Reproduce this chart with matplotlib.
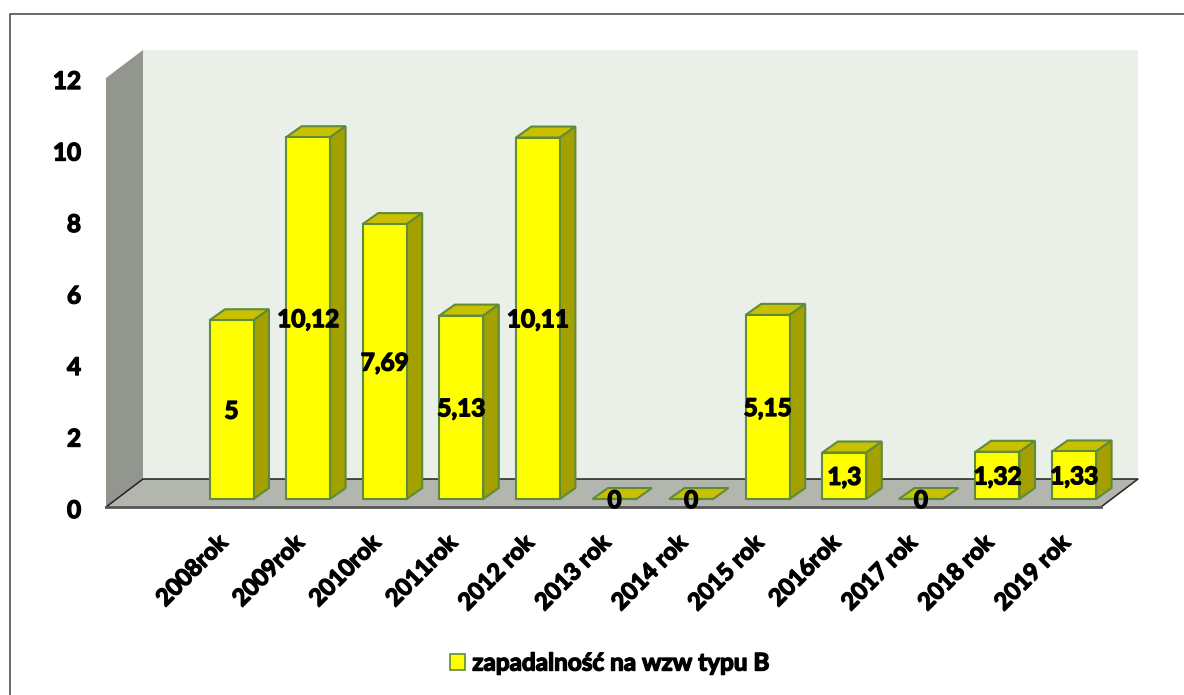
import matplotlib
matplotlib.use('Agg')
import matplotlib.pyplot as plt
import matplotlib.patheffects as pe
from matplotlib.lines import Line2D
from matplotlib.patches import Polygon
from matplotlib.transforms import Affine2D
import numpy as np

plt.rcParams['font.family'] = ['Lato', 'DejaVu Sans']
plt.rcParams['font.weight'] = 'bold'

# dane
years = ['2008rok', '2009rok', '2010rok', '2011rok', '2012 rok', '2013 rok',
         '2014 rok', '2015 rok', '2016rok', '2017 rok', '2018 rok', '2019 rok']
values = [5, 10.12, 7.69, 5.13, 10.11, 0, 0, 5.15, 1.3, 0, 1.32, 1.33]
value_labels = ['5', '10,12', '7,69', '5,13', '10,11', '0', '0', '5,15', '1,3', '0', '1,32', '1,33']
yticks = [0, 2, 4, 6, 8, 10, 12]
series_name = 'zapadalność na wzw typu B'

W, H = 1184, 695
LEFT, RIGHT, TOP, BOTTOM = 106, 1101, 78, 507   # przednia płaszczyzna osi (px)
SLOT = 76.6      # px na kategorię
FIRST = 231.5    # środek pierwszego słupka (px)
HEAVY = [pe.withStroke(linewidth=1.0, foreground='black')]

fig = plt.figure(figsize=(W / 100, H / 100), dpi=100, facecolor='white')
ax = fig.add_axes([LEFT / W, 1 - BOTTOM / H, (RIGHT - LEFT) / W, (BOTTOM - TOP) / H])
ax.set_xlim((LEFT - FIRST) / SLOT, (RIGHT - FIRST) / SLOT)
ax.set_ylim(0, 12)
ax.patch.set_visible(False)
for s in ax.spines.values():
    s.set_visible(False)

px_x = (ax.get_xlim()[1] - ax.get_xlim()[0]) / (RIGHT - LEFT)
px_y = 12 / (BOTTOM - TOP)


def poly(points, **kw):
    ax.add_patch(Polygon(points, closed=True, clip_on=False, **kw))


# ściany i podłoga
xl, xr = ax.get_xlim()
dx, dy = 37 * px_x, 28 * px_y
poly([(xl + dx, dy), (xr + dx, dy), (xr + dx, 12 + dy), (xl + dx, 12 + dy)],
     fc='#EAEFE8', ec='none', zorder=1)
poly([(xl, 0), (xl + dx, dy), (xl + dx, 12 + dy), (xl, 12)], fc='#92968F', ec='none', zorder=1)
poly([(xl, 0), (xr, 0), (xr + dx, dy), (xl + dx, dy)], fc='#B2B6AE', ec='none', zorder=1)
ax.plot([xl, xl + dx, xr + dx, xr], [0, dy, dy, 0], color='#222222', lw=1.1, clip_on=False, zorder=2)
ax.plot([xl, xr], [0, 0], color='#555555', lw=2, clip_on=False, zorder=2)

# słupki
x = np.arange(len(values))
bar_w = 44 * px_x
base = 8 * px_y
ddx, ddy = 15.5 * px_x, 11 * px_y
edge = '#5F8B3A'
bars = ax.bar(x, values, bar_w, bottom=base, color='#FFFF00', edgecolor=edge, lw=1.5,
              zorder=4, label=series_name, clip_on=False)
for xi, v in zip(x, values):
    x0, x1 = xi - bar_w / 2, xi + bar_w / 2
    top = base + v
    poly([(x0, top), (x1, top), (x1 + ddx, top + ddy), (x0 + ddx, top + ddy)],
         fc='#C8C000', ec=edge, lw=1.5, zorder=3)
    if v > 0:
        poly([(x1, base), (x1 + ddx, base + ddy), (x1 + ddx, top + ddy), (x1, top)],
             fc='#A4A000', ec=edge, lw=1.5, zorder=3)

# etykiety wartości
for xi, v, lab in zip(x, values, value_labels):
    ax.text(xi, base + v / 2 - 1.5 * px_y, lab, ha='center', va='center', fontsize=17.5,
            fontweight='bold', color='black', zorder=10, clip_on=False, path_effects=HEAVY)

ax.set_yticks(yticks)
ax.set_yticklabels([str(t) for t in yticks], fontsize=17.5, fontweight='bold', path_effects=HEAVY)
ax.set_xticks(x)
ax.set_xticklabels(years, rotation=45, ha='right', va='top', rotation_mode='anchor',
                   fontsize=17, fontweight='bold', path_effects=HEAVY)
ax.tick_params(axis='both', length=0)
ax.tick_params(axis='y', pad=18)
ax.tick_params(axis='x', pad=19)
for lbl in ax.get_xticklabels():
    lbl.set_transform(lbl.get_transform() + Affine2D().translate(-16, 3))
for lbl in ax.get_yticklabels():
    lbl.set_transform(lbl.get_transform() + Affine2D().translate(0, -1.5))

leg = ax.legend(handles=[bars], loc='center', bbox_to_anchor=(609.5 / W, 1 - 663 / H),
                bbox_transform=fig.transFigure, frameon=False, fontsize=17.5,
                handlelength=0.62, handleheight=0.62, handletextpad=0.3, borderpad=0)
for t in leg.get_texts():
    t.set_path_effects(HEAVY)
for h in leg.legend_handles:
    h.set_linewidth(1.2)

# ramka (tylko góra i lewa strona)
fig.add_artist(Line2D([10 / W, 10 / W, 1], [0, 1 - 14 / H, 1 - 14 / H], color='#404040', lw=1.1))

fig.savefig('out.png', dpi=100, facecolor='white')
